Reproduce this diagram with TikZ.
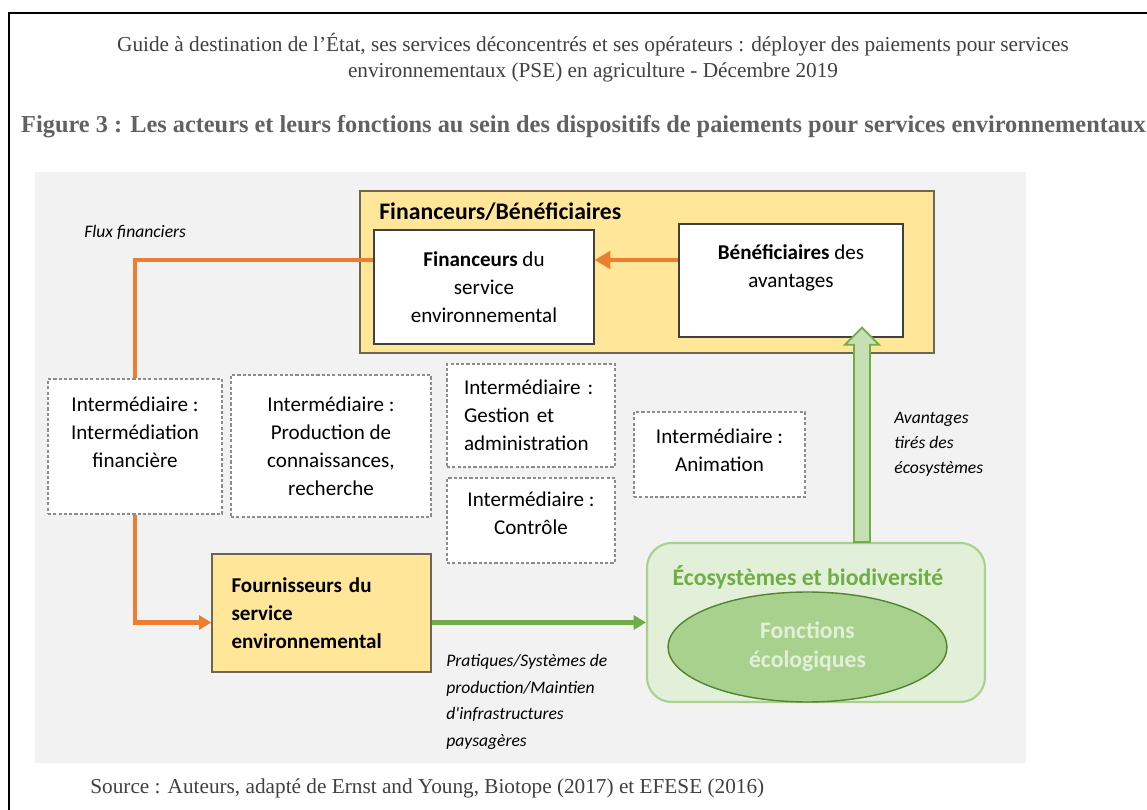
\documentclass[tikz,border=0pt]{standalone}
\usepackage{fontspec}
\setmainfont{Liberation Serif}
\newfontfamily\carlito{Carlito}
\usetikzlibrary{arrows.meta,calc,shapes.geometric}
\definecolor{fondgris}{HTML}{F2F2F2}
\definecolor{jauneclair}{HTML}{FFE699}
\definecolor{bordjaune}{HTML}{6E6652}
\definecolor{orangeflux}{HTML}{ED7D31}
\definecolor{vertfort}{HTML}{70AD47}
\definecolor{vertmoyen}{HTML}{A9D18E}
\definecolor{vertclair}{HTML}{E2F0D9}
\definecolor{vertfleche}{HTML}{C5E0B4}
\definecolor{vertfonce}{HTML}{548235}
\definecolor{texteserif}{HTML}{404040}

\begin{document}
\begin{tikzpicture}[x=0.02cm, y=-0.02cm, font=\carlito\fontsize{12}{15.9}\selectfont,
    acteur/.style = {draw=black!75, fill=white, thick, align=center, inner sep=0pt},
    jaune/.style = {draw=bordjaune, fill=jauneclair, thick, inner sep=0pt},
    inter/.style = {draw=black!45, fill=white, line width=0.8pt, dash pattern=on 1.8pt off 1.2pt, align=center, inner sep=0pt},
    flux/.style = {draw=orangeflux, line width=2.8pt},
    pratique/.style = {draw=vertfort, line width=2.3pt},
    grosvert/.style = {draw=vertfort, fill=vertfleche, line width=1pt, line join=miter},
    lbl/.style = {font=\carlito\itshape\fontsize{10}{14.6}\selectfont, align=left, anchor=west, inner sep=0pt},
    serif/.style = {font=\rmfamily\fontsize{12.1}{14.5}\selectfont, text=texteserif, align=center, inner sep=0pt}]
    \useasboundingbox (0,0) rectangle (1147,810);
    % cadre et titres
    \draw[line width=1.4pt] (9,810) -- (9,13) -- (1147,13);
    \node[serif] (titre) at (593,57.5) {Guide à destination de l'État, ses services déconcentrés et ses opérateurs : déployer des paiements pour services\\environnementaux (PSE) en agriculture - Décembre 2019};
    \node[serif, font=\rmfamily\bfseries\fontsize{13.85}{15}\selectfont, text=black!62] (fig) at (583.5,127) {Figure 3 : Les acteurs et leurs fonctions au sein des dispositifs de paiements pour services environnementaux};
    \node[serif, anchor=west] (source) at (90,788) {Source : Auteurs, adapté de Ernst and Young, Biotope (2017) et EFESE (2016)};
    \fill[fondgris] (35,172) rectangle (1026,763);

    % financeurs / beneficiaires
    \node[jaune, minimum width=11.48cm, minimum height=3.24cm] (fb) at (647,272) {};
    \node[anchor=west, inner sep=0pt, font=\carlito\bfseries\fontsize{13.5}{16}\selectfont] (fbtitre) at (379,212) {Financeurs/Bénéficiaires};
    \node[acteur, minimum width=4.4cm, minimum height=2.28cm] (fin) at (484,287) {\textbf{Financeurs} du\\service\\environnemental};
    \node[acteur, minimum width=4.48cm, minimum height=2.26cm] (ben) at (791,280.5) {\textbf{Bénéficiaires} des\\avantages\\\mbox{}};

    % intermediaires
    \node[inter, minimum width=3.48cm, minimum height=2.7cm] (intfin) at (135,446.5) {Intermédiaire :\\Intermédiation\\financière\\\mbox{}};
    \node[inter, minimum width=4cm, minimum height=2.84cm] (prod) at (331,446) {Intermédiaire :\\Production de\\connaissances,\\recherche};
    \node[inter, minimum width=3.36cm, minimum height=2.06cm, text width=2.68cm, align=left] (gestion) at (531,415.5) {Intermédiaire :\\Gestion et\\administration};
    \node[inter, minimum width=3.36cm, minimum height=1.7cm] (controle) at (531,520.5) {Intermédiaire :\\Contrôle\\[-8pt]\mbox{}};
    \node[inter, minimum width=3.42cm, minimum height=1.7cm] (anim) at (719.5,454.5) {Intermédiaire :\\Animation\\[-11pt]\mbox{}};

    % fournisseurs et ecosystemes
    \node[jaune, minimum width=4.38cm, minimum height=2.36cm, text width=3.6cm, align=left, font=\carlito\bfseries\fontsize{12}{15.9}\selectfont] (fourn) at (321.5,613) {Fournisseurs du\\service\\environnemental};
    \node[draw=vertmoyen, fill=vertclair, line width=1.2pt, rounded corners=14pt, minimum width=6.76cm, minimum height=3.18cm] (eco) at (816,622.5) {};
    \node[text=vertfort, inner sep=0pt, font=\carlito\bfseries\fontsize{13.5}{16}\selectfont] (ecotitre) at (808,577) {Écosystèmes et biodiversité};
    \node[ellipse, draw=vertfonce, fill=vertmoyen, thick, minimum width=5.58cm, minimum height=2.2cm, align=center, text=vertclair, font=\carlito\bfseries\fontsize{13.5}{16.5}\selectfont] (fonct) at (807.5,647) {Fonctions\\écologiques};

    % libelles des flux
    \node[lbl] (fluxfin) at (84,232) {Flux financiers};
    \node[lbl, font=\carlito\itshape\fontsize{10}{14.2}\selectfont] (avant) at (894,444) {Avantages\\tirés des\\écosystèmes};
    \node[lbl, font=\carlito\itshape\fontsize{10}{15.1}\selectfont] (prat) at (446,702) {Pratiques/Systèmes de\\production/Maintien\\d'infrastructures\\paysagères};

    % fleches
    \coordinate (fy) at (0,260);
    \coordinate (gx) at (862,0);
    \draw[flux, -{Triangle[length=9pt, width=10pt]}] (ben.west |- fy) -- (fin.east |- fy);
    \draw[flux] (fin.west |- fy) -| (intfin.north);
    \draw[flux, -{Triangle[length=7pt, width=8pt]}] (intfin.south) |- (fourn.west |- eco.west);
    \draw[pratique, -{Triangle[length=7pt, width=8pt]}] (fourn.east |- eco.west) -- (eco.west);
    \draw[grosvert] ($(eco.north -| gx)+(-8,0)$) |- ($(ben.south -| gx)+(-17,7)$) -- ($(ben.south -| gx)+(0,-10)$) -- ($(ben.south -| gx)+(17,7)$) -| ($(eco.north -| gx)+(8,0)$) -- cycle;
\end{tikzpicture}
\end{document}
